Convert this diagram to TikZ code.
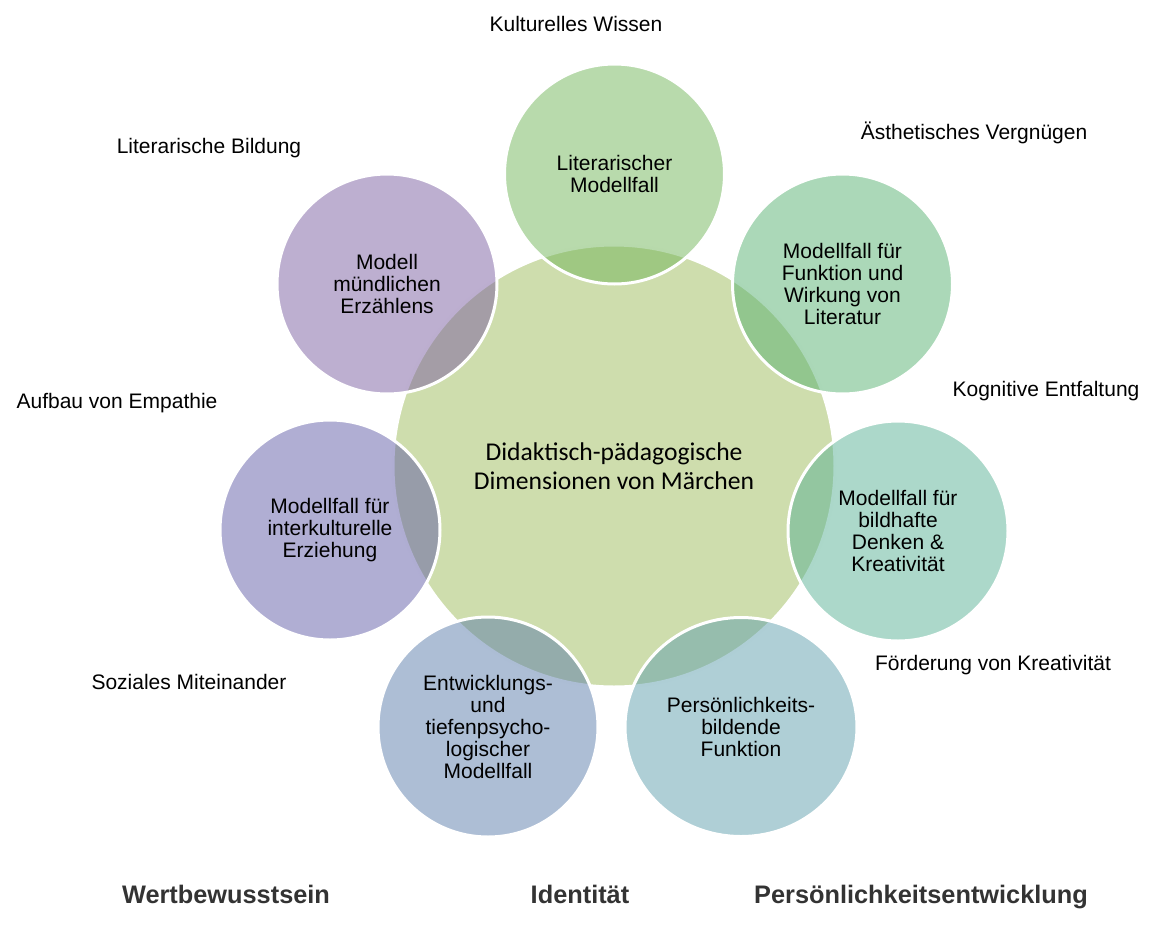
\documentclass[tikz,border=0pt]{standalone}
\usepackage{fontspec}
\setmainfont{Liberation Sans}
\newfontfamily\calibri{Carlito}
\usetikzlibrary{shapes.geometric}

\definecolor{mitte}{RGB}{206,221,173}
\definecolor{kreisA}{RGB}{113,181,89}
\definecolor{kreisB}{RGB}{87,177,113}
\definecolor{kreisC}{RGB}{89,177,149}
\definecolor{kreisD}{RGB}{95,159,173}
\definecolor{kreisE}{RGB}{91,125,171}
\definecolor{kreisF}{RGB}{97,93,167}
\definecolor{kreisG}{RGB}{123,95,161}
\definecolor{dunkel}{RGB}{51,51,51}

\begin{document}
\begin{tikzpicture}[x=0.75pt,y=-0.75pt,
   kreis/.style={circle,minimum size=165pt,inner sep=0pt,fill opacity=0.5,text opacity=1,
      draw=white,line width=2.25pt,align=center,font=\fontsize{15.75}{16.5}\selectfont},
   beschrift/.style={anchor=base,font=\fontsize{15.75}{16.5}\selectfont},
   achse/.style={anchor=base,text=dunkel,font=\bfseries\fontsize{19}{21}\selectfont}]
      \useasboundingbox (0,0) rectangle (1158,925);
      % Mitte
      \node[circle,minimum size=331.5pt,inner sep=0pt,fill=mitte,draw=white,line width=2.25pt,align=center,
         font=\calibri\fontsize{19.2}{21.75}\selectfont] (mitte) at (614,466) {Didaktisch-pädagogische\\Dimensionen von Märchen};
      % Kreise
      \node[kreis,fill=kreisA] (lit) at (614.5,174) {Literarischer\\Modellfall};
      \node[kreis,fill=kreisB] (funk) at (842.5,284) {Modellfall für\\Funktion und\\Wirkung von\\Literatur};
      \node[kreis,fill=kreisC] (bild) at (898,531) {Modellfall für\\bildhafte\\Denken \&\\Kreativität};
      \node[kreis,ellipse,minimum width=174pt,minimum height=164.25pt,fill=kreisD] (pers) at (741,727) {Persönlichkeits-\\bildende\\Funktion};
      \node[kreis,fill=kreisE] (entw) at (488,727) {Entwicklungs-\\und\\tiefenpsycho-\\logischer\\Modellfall};
      \node[kreis,fill=kreisF] (inter) at (330,530) {Modellfall für\\interkulturelle\\Erziehung};
      \node[kreis,fill=kreisG] (muend) at (387,284) {Modell\\mündlichen\\Erzählens};
      % Beschriftungen
      \node[beschrift] (kw) at (576,31) {Kulturelles Wissen};
      \node[beschrift] (av) at (974,139) {Ästhetisches Vergnügen};
      \node[beschrift] (lb) at (209,153) {Literarische Bildung};
      \node[beschrift] (ke) at (1046,396) {Kognitive Entfaltung};
      \node[beschrift] (ae) at (117,408) {Aufbau von Empathie};
      \node[beschrift] (fk) at (993,670) {Förderung von Kreativität};
      \node[beschrift] (sm) at (189,689) {Soziales Miteinander};
      % unten
      \node[achse] (wert) at (226,903) {Wertbewusstsein};
      \node[achse] (ident) at (580,903) {Identität};
      \node[achse] (persent) at (921,903) {Persönlichkeitsentwicklung};
\end{tikzpicture}
\end{document}
